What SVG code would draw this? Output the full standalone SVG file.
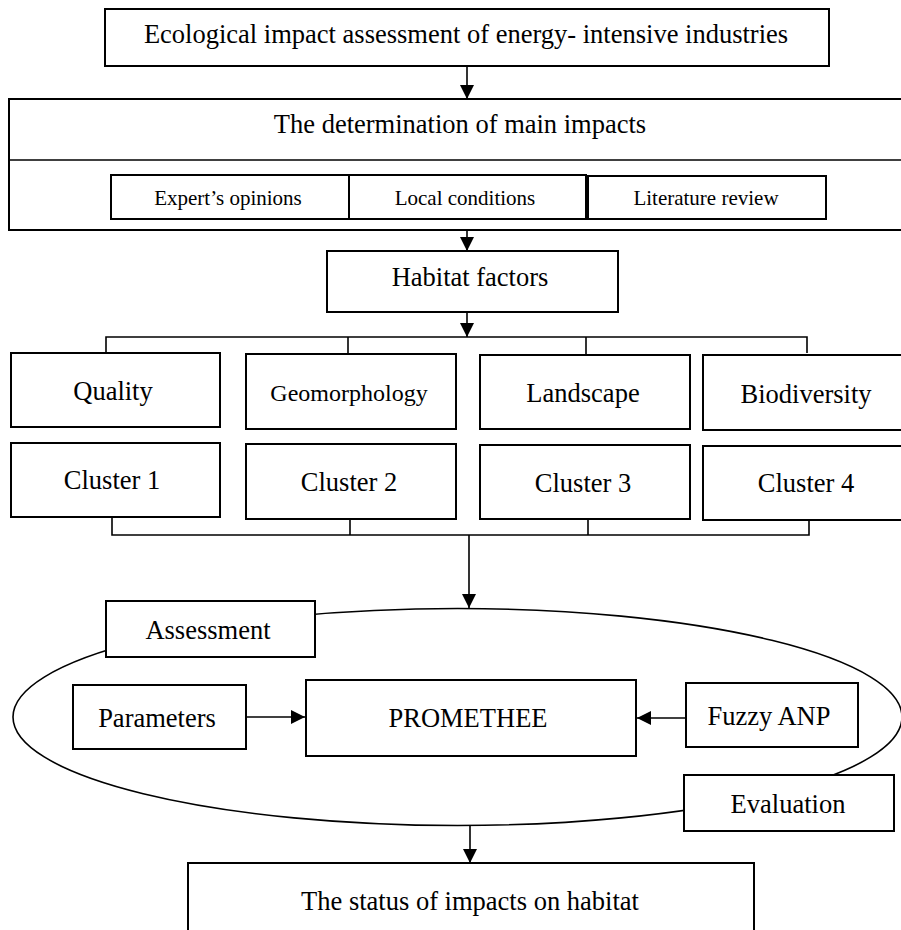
<svg xmlns="http://www.w3.org/2000/svg" width="901" height="930" viewBox="0 0 901 930">
<style>
rect{fill:#fff;stroke:#000;stroke-width:2}
text{font-family:"Liberation Serif","Times New Roman",serif;fill:#000;text-anchor:middle}
.l{fill:none;stroke:#000;stroke-width:1.6}
.t26{font-size:26.5px}.t21{font-size:21px}.t24{font-size:24px}
</style>
<defs>
<marker id="ah" viewBox="0 0 10 10" refX="10" refY="5" markerWidth="14" markerHeight="14" markerUnits="userSpaceOnUse" orient="auto">
<path d="M0,0 L10,5 L0,10 z" fill="#000"/>
</marker>
</defs>
<rect width="901" height="930" style="stroke:none"/>
<g id="connectors">
<line class="l" x1="467" y1="66" x2="467" y2="99" marker-end="url(#ah)"/>
<line class="l" x1="467" y1="230" x2="467" y2="251" marker-end="url(#ah)"/>
<line class="l" x1="467" y1="313" x2="467" y2="337" marker-end="url(#ah)"/>
<polyline class="l" points="106,353 106,337 807,337 807,353"/>
<line class="l" x1="348" y1="337" x2="348" y2="354"/>
<line class="l" x1="586" y1="337" x2="586" y2="354"/>
<polyline class="l" points="112,517 112,535 809,535 809,520"/>
<line class="l" x1="350" y1="519" x2="350" y2="535"/>
<line class="l" x1="588" y1="519" x2="588" y2="535"/>
<line class="l" x1="469" y1="535" x2="469" y2="608" marker-end="url(#ah)"/>
<ellipse class="l" cx="457.5" cy="717" rx="444.5" ry="108.5"/>
<line class="l" x1="246" y1="717" x2="305" y2="717" stroke-width="2.5" marker-end="url(#ah)"/>
<line class="l" x1="686" y1="718" x2="637" y2="718" stroke-width="2.5" marker-end="url(#ah)"/>
<line class="l" x1="470" y1="826" x2="470" y2="863" marker-end="url(#ah)"/>
</g>
<g id="top"><rect x="105" y="9" width="724" height="57"/><text class="t26" x="466" y="43">Ecological impact assessment of energy- intensive industries</text></g>
<g id="determination"><rect x="9" y="99" width="900" height="131"/><line class="l" x1="9" y1="160" x2="901" y2="160" stroke-width="2"/><text class="t26" x="460" y="133">The determination of main impacts</text></g>
<g id="expert"><rect x="111" y="175" width="238" height="44"/><text class="t21" x="228" y="205">Expert’s opinions</text></g>
<g id="local"><rect x="349" y="175" width="237" height="44"/><text class="t21" x="465" y="205">Local conditions</text></g>
<g id="literature"><rect x="588" y="176" width="238" height="43"/><text class="t21" x="706" y="205">Literature review</text></g>
<g id="habitat"><rect x="327" y="251" width="291" height="61"/><text class="t26" x="470" y="286">Habitat factors</text></g>
<g id="quality"><rect x="11" y="353" width="209" height="74"/><text class="t26" x="113" y="400">Quality</text></g>
<g id="geomorphology"><rect x="246" y="354" width="210" height="75"/><text class="t24" x="349" y="401">Geomorphology</text></g>
<g id="landscape"><rect x="480" y="355" width="210" height="74"/><text class="t26" x="583" y="402">Landscape</text></g>
<g id="biodiversity"><rect x="703" y="355" width="200" height="75"/><text class="t26" x="806" y="403">Biodiversity</text></g>
<g id="cluster1"><rect x="11" y="443" width="209" height="74"/><text class="t26" x="112" y="489">Cluster 1</text></g>
<g id="cluster2"><rect x="246" y="444" width="210" height="75"/><text class="t26" x="349" y="491">Cluster 2</text></g>
<g id="cluster3"><rect x="480" y="445" width="210" height="74"/><text class="t26" x="583" y="492">Cluster 3</text></g>
<g id="cluster4"><rect x="703" y="446" width="200" height="74"/><text class="t26" x="806" y="492">Cluster 4</text></g>
<g id="assessment"><rect x="106" y="601" width="209" height="56"/><text class="t26" x="208" y="639">Assessment</text></g>
<g id="parameters"><rect x="73" y="685" width="173" height="64"/><text class="t26" x="157" y="727">Parameters</text></g>
<g id="promethee"><rect x="306" y="680" width="330" height="76"/><text class="t26" x="468" y="727">PROMETHEE</text></g>
<g id="fuzzyanp"><rect x="686" y="683" width="172" height="64"/><text class="t26" x="769" y="725">Fuzzy ANP</text></g>
<g id="evaluation"><rect x="684" y="775" width="210" height="56"/><text class="t26" x="788" y="813">Evaluation</text></g>
<g id="status"><rect x="188" y="863" width="566" height="80"/><text class="t26" x="470" y="910">The status of impacts on habitat</text></g>
</svg>
